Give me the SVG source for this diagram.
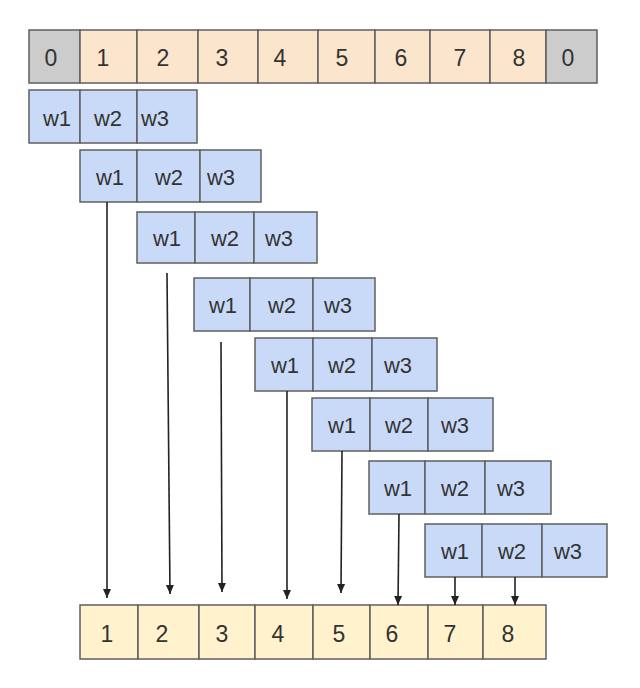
<svg xmlns="http://www.w3.org/2000/svg" width="640" height="688" viewBox="0 0 640 688">
<style>
.c{stroke:#5f5f5f;stroke-width:1.5}
.pad{fill:#cccccc}
.in{fill:#fce5cd}
.k{fill:#c9daf8}
.out{fill:#fff2cc}
.t{font-family:"Liberation Sans",Arial,sans-serif;font-size:22px;fill:#333333;text-anchor:middle}
.d{font-size:23px}
.a{stroke:#222;stroke-width:1.6;fill:none;marker-end:url(#ah)}
</style>
<defs>
<marker id="ah" markerUnits="userSpaceOnUse" markerWidth="10" markerHeight="10" viewBox="0 0 10 10" refX="9" refY="5" orient="auto">
<path d="M0,1 L9,5 L0,9 Z" fill="#222"/>
</marker>
</defs>
<rect width="640" height="688" fill="#ffffff"/>

<g id="input">
<rect class="c pad" x="29" y="30" width="51" height="53"/>
<rect class="c in" x="80" y="30" width="57" height="53"/>
<rect class="c in" x="137" y="30" width="61" height="53"/>
<rect class="c in" x="198" y="30" width="60" height="53"/>
<rect class="c in" x="258" y="30" width="60" height="53"/>
<rect class="c in" x="318" y="30" width="57" height="53"/>
<rect class="c in" x="375" y="30" width="55" height="53"/>
<rect class="c in" x="430" y="30" width="60" height="53"/>
<rect class="c in" x="490" y="30" width="56" height="53"/>
<rect class="c pad" x="546" y="30" width="51" height="53"/>
<text class="t d" x="51" y="66">0</text>
<text class="t d" x="103" y="66">1</text>
<text class="t d" x="163" y="66">2</text>
<text class="t d" x="222" y="66">3</text>
<text class="t d" x="280" y="66">4</text>
<text class="t d" x="342" y="66">5</text>
<text class="t d" x="401" y="66">6</text>
<text class="t d" x="460" y="66">7</text>
<text class="t d" x="519" y="66">8</text>
<text class="t d" x="568" y="66">0</text>
</g>

<g id="kernel1">
<rect class="c k" x="29" y="90" width="51" height="53"/>
<rect class="c k" x="80" y="90" width="57" height="53"/>
<rect class="c k" x="137" y="90" width="60" height="53"/>
<text class="t" x="57" y="126">w1</text>
<text class="t" x="108" y="126">w2</text>
<text class="t" x="155" y="126">w3</text>
</g>

<g id="kernel2">
<rect class="c k" x="80" y="150" width="57" height="52"/>
<rect class="c k" x="137" y="150" width="63" height="52"/>
<rect class="c k" x="200" y="150" width="61" height="52"/>
<text class="t" x="110" y="185">w1</text>
<text class="t" x="169" y="185">w2</text>
<text class="t" x="221" y="185">w3</text>
</g>

<g id="kernel3">
<rect class="c k" x="137" y="212" width="58" height="51"/>
<rect class="c k" x="195" y="212" width="59" height="51"/>
<rect class="c k" x="254" y="212" width="63" height="51"/>
<text class="t" x="167" y="246">w1</text>
<text class="t" x="225" y="246">w2</text>
<text class="t" x="279" y="246">w3</text>
</g>

<g id="kernel4">
<rect class="c k" x="194" y="278" width="56" height="53"/>
<rect class="c k" x="250" y="278" width="63" height="53"/>
<rect class="c k" x="313" y="278" width="62" height="53"/>
<text class="t" x="223" y="313">w1</text>
<text class="t" x="282" y="313">w2</text>
<text class="t" x="338" y="313">w3</text>
</g>

<g id="kernel5">
<rect class="c k" x="255" y="338" width="58" height="53"/>
<rect class="c k" x="313" y="338" width="59" height="53"/>
<rect class="c k" x="372" y="338" width="65" height="53"/>
<text class="t" x="285" y="373">w1</text>
<text class="t" x="342" y="373">w2</text>
<text class="t" x="398" y="373">w3</text>
</g>

<g id="kernel6">
<rect class="c k" x="312" y="398" width="58" height="53"/>
<rect class="c k" x="370" y="398" width="58" height="53"/>
<rect class="c k" x="428" y="398" width="65" height="53"/>
<text class="t" x="342" y="433">w1</text>
<text class="t" x="399" y="433">w2</text>
<text class="t" x="455" y="433">w3</text>
</g>

<g id="kernel7">
<rect class="c k" x="369" y="461" width="56" height="53"/>
<rect class="c k" x="425" y="461" width="60" height="53"/>
<rect class="c k" x="485" y="461" width="66" height="53"/>
<text class="t" x="398" y="496">w1</text>
<text class="t" x="455" y="496">w2</text>
<text class="t" x="511" y="496">w3</text>
</g>

<g id="kernel8">
<rect class="c k" x="425" y="524" width="57" height="53"/>
<rect class="c k" x="482" y="524" width="60" height="53"/>
<rect class="c k" x="542" y="524" width="65" height="53"/>
<text class="t" x="455" y="559">w1</text>
<text class="t" x="512" y="559">w2</text>
<text class="t" x="568" y="559">w3</text>
</g>

<g id="output">
<rect class="c out" x="80" y="605" width="58" height="54"/>
<rect class="c out" x="138" y="605" width="61" height="54"/>
<rect class="c out" x="199" y="605" width="56" height="54"/>
<rect class="c out" x="255" y="605" width="58" height="54"/>
<rect class="c out" x="313" y="605" width="57" height="54"/>
<rect class="c out" x="370" y="605" width="58" height="54"/>
<rect class="c out" x="428" y="605" width="55" height="54"/>
<rect class="c out" x="483" y="605" width="63" height="54"/>
<text class="t d" x="107" y="642">1</text>
<text class="t d" x="162" y="642">2</text>
<text class="t d" x="222" y="642">3</text>
<text class="t d" x="278" y="642">4</text>
<text class="t d" x="339" y="642">5</text>
<text class="t d" x="392" y="642">6</text>
<text class="t d" x="450" y="642">7</text>
<text class="t d" x="508" y="642">8</text>
</g>

<g id="connectors">
<line class="a" x1="107" y1="202" x2="107" y2="598"/>
<line class="a" x1="167" y1="273" x2="170" y2="594"/>
<line class="a" x1="221" y1="342" x2="222" y2="592"/>
<line class="a" x1="287" y1="391" x2="287" y2="599"/>
<line class="a" x1="342" y1="451" x2="341" y2="593"/>
<line class="a" x1="399" y1="514" x2="398" y2="605"/>
<line class="a" x1="455" y1="577" x2="455" y2="605"/>
<line class="a" x1="515" y1="577" x2="515" y2="605"/>
</g>
</svg>
